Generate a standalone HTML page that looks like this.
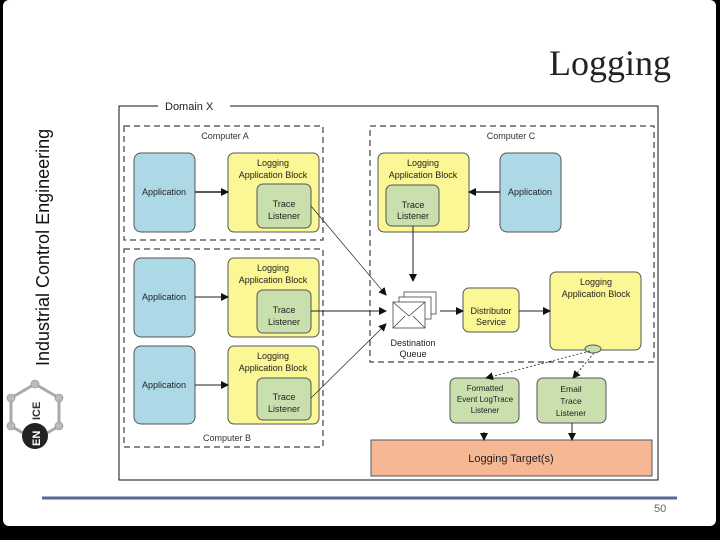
<!DOCTYPE html>
<html><head><meta charset="utf-8"><style>
html,body{margin:0;padding:0;background:#000;}
#p{position:relative;width:720px;height:540px;overflow:hidden;background:#000;}
svg{position:absolute;left:0;top:0;}
</style></head><body><div id="p">
<svg width="720" height="540" viewBox="0 0 720 540" font-family="Liberation Sans, sans-serif">
<defs>
<marker id="a" markerWidth="8" markerHeight="8" refX="7" refY="4" orient="auto" markerUnits="userSpaceOnUse"><path d="M0,0 L8,4 L0,8z" fill="#111"/></marker>
</defs>
<rect x="3" y="0" width="713" height="526" rx="6" fill="#fff"/>
<text transform="translate(49,366) rotate(-90)" font-size="18" fill="#111">Industrial Control Engineering</text>
<g transform="translate(35,412)">
<g stroke="#aaa" stroke-width="3" fill="none"><polygon points="0,-28 24,-14 24,14 0,28 -24,14 -24,-14"/></g>
<g fill="#bbb" stroke="#888" stroke-width="0.6"><circle cx="0" cy="-28" r="4"/><circle cx="24" cy="-14" r="4"/><circle cx="24" cy="14" r="4"/><circle cx="-24" cy="14" r="4"/><circle cx="-24" cy="-14" r="4"/></g>
<circle cx="0" cy="24" r="13" fill="#222"/>
<text transform="translate(5,34) rotate(-90)" font-size="11" font-weight="bold" fill="#fff">EN</text>
<text transform="translate(5,8) rotate(-90)" font-size="11" font-weight="bold" fill="#333">ICE</text>
</g>
<text x="549" y="75" font-family="Liberation Serif, serif" font-size="36" fill="#222">Logging</text>
<line x1="42" y1="498" x2="677" y2="498" stroke="#56699a" stroke-width="3"/>
<text x="654" y="512" font-size="11" fill="#666">50</text>

<rect x="119" y="106" width="539" height="374" fill="#fff" stroke="#111" stroke-width="1"/>
<rect x="158" y="99" width="72" height="14" fill="#fff"/>
<text x="165" y="110" font-size="11" fill="#222">Domain X</text>
<g fill="none" stroke="#444" stroke-dasharray="6,4" stroke-width="1.2">
<rect x="124" y="126" width="199" height="114"/>
<rect x="124" y="249" width="199" height="198"/>
<rect x="370" y="126" width="284" height="236"/>
</g>
<g font-size="9" fill="#333" text-anchor="middle">
<text x="225" y="139">Computer A</text>
<text x="227" y="441">Computer B</text>
<text x="511" y="139">Computer C</text>
</g>
<g stroke="#555" stroke-width="1">
<g fill="#add8e6">
<rect x="134" y="153" width="61" height="79" rx="7"/>
<rect x="134" y="258" width="61" height="79" rx="7"/>
<rect x="134" y="346" width="61" height="78" rx="7"/>
<rect x="500" y="153" width="61" height="79" rx="7"/>
</g>
<g fill="#fbf794">
<rect x="228" y="153" width="91" height="79" rx="6"/>
<rect x="228" y="258" width="91" height="79" rx="6"/>
<rect x="228" y="346" width="91" height="78" rx="6"/>
<rect x="378" y="153" width="91" height="79" rx="6"/>
<rect x="463" y="288" width="56" height="44" rx="6"/>
<rect x="550" y="272" width="91" height="78" rx="6"/>
</g>
<g fill="#c9dfae">
<rect x="257" y="184" width="54" height="44" rx="6"/>
<rect x="257" y="290" width="54" height="43" rx="6"/>
<rect x="257" y="378" width="54" height="42" rx="6"/>
<rect x="386" y="185" width="53" height="41" rx="6"/>
<rect x="450" y="378" width="69" height="45" rx="6"/>
<rect x="537" y="378" width="69" height="45" rx="6"/>
<ellipse cx="593" cy="349" rx="8" ry="4"/>
</g>
<rect x="371" y="440" width="281" height="36" fill="#f6b894"/>
</g>
<g font-size="9" fill="#222" text-anchor="middle">
<text x="164" y="195">Application</text>
<text x="164" y="300">Application</text>
<text x="164" y="388">Application</text>
<text x="530" y="195">Application</text>
<text x="273" y="166">Logging</text><text x="273" y="178">Application Block</text>
<text x="273" y="271">Logging</text><text x="273" y="283">Application Block</text>
<text x="273" y="359">Logging</text><text x="273" y="371">Application Block</text>
<text x="423" y="166">Logging</text><text x="423" y="178">Application Block</text>
<text x="596" y="285">Logging</text><text x="596" y="297">Application Block</text>
<text x="284" y="207">Trace</text><text x="284" y="219">Listener</text>
<text x="284" y="313">Trace</text><text x="284" y="325">Listener</text>
<text x="284" y="400">Trace</text><text x="284" y="412">Listener</text>
<text x="413" y="208">Trace</text><text x="413" y="219">Listener</text>
<text x="491" y="314">Distributor</text><text x="491" y="325">Service</text>
<text x="413" y="346">Destination</text><text x="413" y="357">Queue</text>
<text x="485" y="391" font-size="8">Formatted</text><text x="485" y="402" font-size="8">Event LogTrace</text><text x="485" y="413" font-size="8">Listener</text>
<text x="571" y="392" font-size="8.5">Email</text><text x="571" y="404" font-size="8.5">Trace</text><text x="571" y="416" font-size="8.5">Listener</text>
<text x="511" y="462" font-size="11">Logging Target(s)</text>
</g>
<g fill="#fff" stroke="#444" stroke-width="0.8">
<rect x="404" y="292" width="32" height="22"/>
<rect x="399" y="297" width="32" height="22"/>
<rect x="393" y="302" width="32" height="26"/>
<path d="M393,302 L409,316 L425,302 M393,328 L405,316 M425,328 L413,316" fill="none"/>
</g>
<g stroke="#222" fill="none" marker-end="url(#a)">
<line x1="195" y1="192" x2="228" y2="192" stroke-width="1.5"/>
<line x1="195" y1="297" x2="228" y2="297"/>
<line x1="195" y1="385" x2="228" y2="385"/>
<line x1="500" y1="192" x2="469" y2="192" stroke-width="1.5"/>
<line x1="413" y1="226" x2="413" y2="281"/>
<line x1="311" y1="206" x2="386" y2="295" stroke-width="0.7"/>
<line x1="311" y1="311" x2="386" y2="311"/>
<line x1="311" y1="398" x2="386" y2="324" stroke-width="0.7"/>
<line x1="440" y1="311" x2="463" y2="311"/>
<line x1="519" y1="311" x2="550" y2="311"/>
<line x1="590" y1="351" x2="486" y2="378" stroke-dasharray="2,2" stroke-width="0.8"/>
<line x1="594" y1="353" x2="573" y2="378" stroke-dasharray="2,2" stroke-width="0.8"/>
<line x1="484" y1="432" x2="484" y2="440"/>
<line x1="572" y1="423" x2="572" y2="440"/>
</g>
</svg>
</div></body></html>
